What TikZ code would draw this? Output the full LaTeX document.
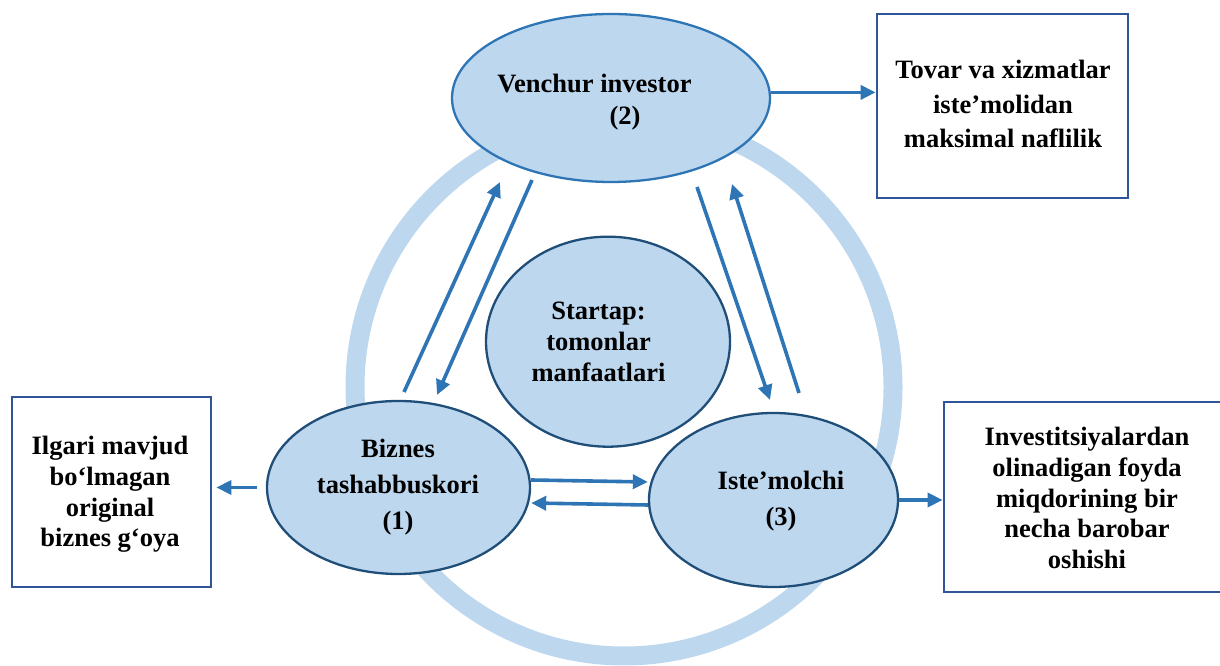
\documentclass[tikz,border=0pt]{standalone}
\usepackage{fontspec}
\setmainfont{Liberation Serif}
\usetikzlibrary{arrows.meta,shapes.geometric}
\definecolor{fillblue}{HTML}{BDD7EE}
\definecolor{ringblue}{HTML}{BDD7EE}
\definecolor{arrowblue}{HTML}{2E75B6}
\definecolor{darkedge}{HTML}{1F4E79}
\definecolor{boxedge}{HTML}{2F5597}
\begin{document}
\begin{tikzpicture}[x=1pt,y=1pt,
  party/.style={ellipse, draw=darkedge, line width=2.3pt, fill=fillblue, inner sep=0pt},
  outbox/.style={rectangle, draw=boxedge, line width=2.8pt, fill=white, inner sep=0pt},
  txt/.style={font=\bfseries\fontsize{26.5}{#1}\selectfont, align=center, anchor=base, inner sep=0pt},
  arr/.style={draw=arrowblue, line width=3.6pt, -{Triangle[length=15pt,width=14pt]}},
]
\useasboundingbox (0,0) rectangle (1220,666);
\clip (0,0) rectangle (1220,666);
% ring
\draw[ringblue, line width=19pt] (624,279) circle[radius=269];
% parties
\node[party, draw=arrowblue, minimum width=318pt, minimum height=168pt] (v) at (611,568) {};
\node[party, minimum width=244pt, minimum height=210pt] (s) at (608,324.3) {};
\node[party, minimum width=263pt, minimum height=173pt] (b) at (398.5,178.5) {};
\node[party, minimum width=249pt, minimum height=174pt] (c) at (773.5,166) {};
% boxes
\node[outbox, minimum width=251pt, minimum height=184pt] (tr) at (1002.5,560) {};
\node[outbox, minimum width=199pt, minimum height=190pt] (lb) at (111.5,174) {};
\node[outbox, minimum width=286pt, minimum height=190pt] (rb) at (1087,169) {};
% texts (anchor = baseline of the last line)
\node[txt=32] (vt) at (594.5,541) {Venchur investor\\\hspace*{61pt}(2)};
\node[txt=31] (st) at (598.5,284.3) {Startap:\\tomonlar\\manfaatlari};
\node[txt=36] (bt) at (398,136) {Biznes\\tashabbuskori\\(1)};
\node[txt=36] (ct) at (781,140) {Iste’molchi\\(3)};
\node[txt=34.7] (trt) at (1003,518) {Tovar va xizmatlar\\iste’molidan\\maksimal naflilik};
\node[txt=30.6] (lbt) at (110,119.3) {Ilgari mavjud\\bo‘lmagan\\original\\biznes g‘oya};
\node[txt=30.6] (rbt) at (1087,97.7) {Investitsiyalardan\\olinadigan foyda\\miqdorining bir\\necha barobar\\oshishi};
% free ends of the diagonal arrows
\coordinate (bvs) at (404,274);
\coordinate (bve) at (500,484);
\coordinate (vbs) at (532,486);
\coordinate (vbe) at (437,271);
\coordinate (vcs) at (697,479);
\coordinate (vce) at (770,266);
\coordinate (cvs) at (799,273);
\coordinate (cve) at (732,482);
% connectors
\draw[arr] (v.2) -- (v.2 -| tr.west);
\draw[arr] ([xshift=-9pt]b.west) -- ([xshift=4pt]b.west -| lb.east);
\draw[arr] (c.east) -- (c.east -| rb.west);
\draw[arr] ([yshift=7.5pt]b.east) -- ([yshift=18pt]c.west);
\draw[arr] ([yshift=-5pt]c.west) -- ([yshift=-15.5pt]b.east);
\draw[arr] (bvs) -- (bve);
\draw[arr] (vbs) -- (vbe);
\draw[arr] (vcs) -- (vce);
\draw[arr] (cvs) -- (cve);
\end{tikzpicture}
\end{document}
